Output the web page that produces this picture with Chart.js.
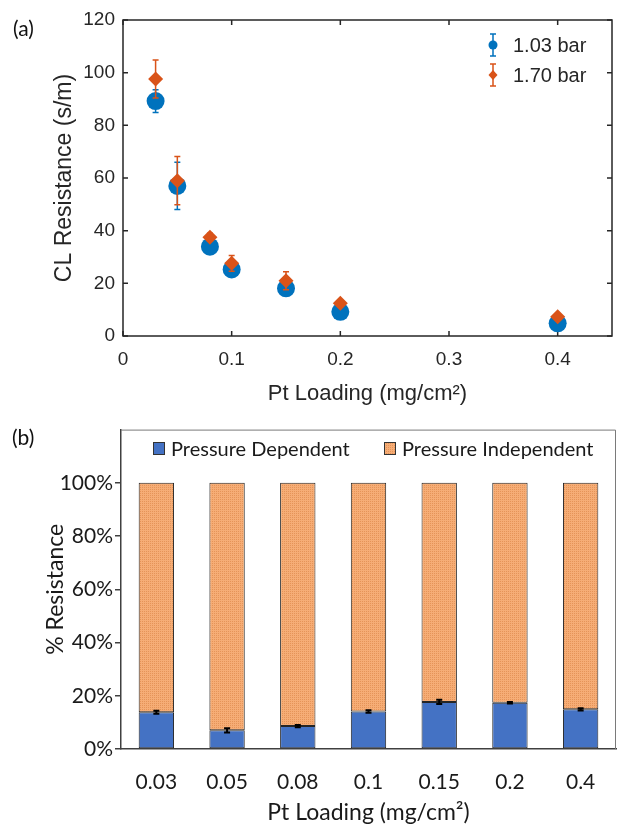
<!DOCTYPE html>
<html>
<head>
<meta charset="utf-8">
<script src="https://cdn.jsdelivr.net/npm/chart.js@4.4.1/dist/chart.umd.min.js"></script>
<style>
  html, body { margin: 0; padding: 0; background: #fff; }
  body { width: 621px; height: 827px; position: relative; overflow: hidden; }
  canvas { position: absolute; left: 0; }
  .tag { position: absolute; font-family: Lato, sans-serif; font-size: 21px; color: #111; z-index: 2; }
</style>
</head>
<body>
<canvas id="chartA" width="621" height="415" style="top:0"></canvas>
<canvas id="chartB" width="621" height="412" style="top:415px"></canvas>
<div class="tag" style="left:13px;top:15px">(a)</div>
<div class="tag" style="left:12px;top:424px">(b)</div>

<script>
// (a) CL resistance vs Pt loading
const ptLoading = [0.03, 0.05, 0.08, 0.1, 0.15, 0.2, 0.4];
const res103 = [89.2, 57.0, 33.9, 25.3, 18.1, 9.2, 4.8];
const err103 = [4.3, 9.0, 1.0, 1.0, 1.0, 1.0, 1.0];
const res170 = [97.6, 59.0, 37.5, 27.6, 21.0, 12.4, 7.3];
const err170 = [7.2, 9.2, 1.5, 3.0, 3.4, 1.2, 1.0];

// (b) share of resistance
const loadingLabels = ["0.03", "0.05", "0.08", "0.1", "0.15", "0.2", "0.4"];
const depPct = [13.8, 7.0, 8.6, 14.1, 17.7, 17.4, 14.9];
const depErr = [0.6, 0.8, 0.4, 0.5, 0.8, 0.3, 0.4];
const indepPct = [86.2, 93.0, 91.4, 85.9, 82.3, 82.6, 85.1];

const pctTicks = [0, 20, 40, 60, 80, 100];

const ARIAL = "'Liberation Sans', Arial, sans-serif";
const CALIBRI = "Lato, 'Open Sans', sans-serif";
const INK = "#262626";

// fine stipple like the orange fill in the original
function stipple(base, dot) {
  const c = document.createElement("canvas");
  c.width = 2; c.height = 2;
  const g = c.getContext("2d");
  g.fillStyle = base; g.fillRect(0, 0, 2, 2);
  g.fillStyle = dot; g.fillRect(0, 0, 1, 1);
  return g.createPattern(c, "repeat");
}
const orangeFill = stipple("#F6AD76", "#E59458");

// error bars drawn just before each dataset's own markers
const errorBars = {
  id: "errorBars",
  beforeDatasetDraw(chart, args) {
    const ds = chart.data.datasets[args.index];
    if (!ds.errors) return;
    const { ctx, scales: { x, y } } = chart;
    ctx.save();
    ctx.strokeStyle = ds.borderColor;
    ctx.lineWidth = 1.5;
    ds.data.forEach((p, i) => {
      const e = ds.errors[i];
      const px = x.getPixelForValue(p.x);
      const top = y.getPixelForValue(p.y + e);
      const bot = y.getPixelForValue(p.y - e);
      ctx.beginPath();
      ctx.moveTo(px, top); ctx.lineTo(px, bot);
      ctx.moveTo(px - 3, top); ctx.lineTo(px + 3, top);
      ctx.moveTo(px - 3, bot); ctx.lineTo(px + 3, bot);
      ctx.stroke();
    });
    ctx.restore();
  }
};

// box with inward ticks on all four sides (MATLAB style)
const boxA = {
  id: "boxA",
  beforeDatasetsDraw(chart) {
    const { ctx, chartArea: a, scales: { x, y } } = chart;
    ctx.save();
    ctx.strokeStyle = INK;
    ctx.lineWidth = 1.5;
    ctx.strokeRect(a.left, a.top, a.right - a.left, a.bottom - a.top);
    ctx.beginPath();
    x.ticks.forEach(t => {
      const px = x.getPixelForValue(t.value);
      ctx.moveTo(px, a.bottom); ctx.lineTo(px, a.bottom - 5);
      ctx.moveTo(px, a.top); ctx.lineTo(px, a.top + 5);
    });
    y.ticks.forEach(t => {
      const py = y.getPixelForValue(t.value);
      ctx.moveTo(a.left, py); ctx.lineTo(a.left + 5, py);
      ctx.moveTo(a.right, py); ctx.lineTo(a.right - 5, py);
    });
    ctx.stroke();
    ctx.restore();
  }
};

const legendA = {
  id: "legendA",
  afterDraw(chart) {
    const ctx = chart.ctx;
    ctx.save();
    ctx.font = "20px " + ARIAL;
    ctx.textBaseline = "middle";
    chart.data.datasets.forEach((ds, i) => {
      const cx = 493, cy = 45 + i * 30;
      ctx.strokeStyle = ds.borderColor;
      ctx.fillStyle = ds.backgroundColor;
      ctx.lineWidth = 1.5;
      ctx.beginPath();
      ctx.moveTo(cx, cy - 11); ctx.lineTo(cx, cy + 11);
      ctx.moveTo(cx - 3, cy - 11); ctx.lineTo(cx + 3, cy - 11);
      ctx.moveTo(cx - 3, cy + 11); ctx.lineTo(cx + 3, cy + 11);
      ctx.stroke();
      ctx.beginPath();
      if (ds.pointStyle === "rectRot") {
        ctx.moveTo(cx, cy - 5); ctx.lineTo(cx + 4.5, cy); ctx.lineTo(cx, cy + 5); ctx.lineTo(cx - 4.5, cy);
        ctx.closePath();
      } else {
        ctx.arc(cx, cy, 4.5, 0, Math.PI * 2);
      }
      ctx.fill();
      ctx.fillStyle = INK;
      ctx.fillText(ds.label, 513, cy + 1);
    });
    ctx.restore();
  }
};

new Chart(document.getElementById("chartA"), {
  type: "scatter",
  data: {
    datasets: [
      {
        label: "1.03 bar",
        data: ptLoading.map((x, i) => ({ x: x, y: res103[i] })),
        errors: err103,
        pointStyle: "circle",
        pointRadius: 9,
        borderWidth: 0,
        backgroundColor: "#0072BD",
        borderColor: "#0072BD",
        order: 1
      },
      {
        label: "1.70 bar",
        data: ptLoading.map((x, i) => ({ x: x, y: res170[i] })),
        errors: err170,
        pointStyle: "rectRot",
        pointRadius: 7.5,
        borderWidth: 0,
        backgroundColor: "#D95319",
        borderColor: "#D95319",
        order: 0
      }
    ]
  },
  options: {
    responsive: false,
    animation: false,
    devicePixelRatio: 1,
    layout: { padding: { top: 20, right: 4, left: 0, bottom: 0 } },
    plugins: { legend: { display: false }, tooltip: { enabled: false } },
    scales: {
      x: {
        type: "linear", min: 0, max: 0.45,
        ticks: { stepSize: 0.1, includeBounds: false, color: INK, padding: 12, maxRotation: 0,
                 font: { family: ARIAL, size: 19 } },
        grid: { display: false, drawTicks: false },
        border: { display: false },
        title: { display: true, text: "Pt Loading (mg/cm²)", color: INK,
                 font: { family: ARIAL, size: 22 }, padding: { top: 0, bottom: 8 } },
        afterFit(s) { s.height = 79; }
      },
      y: {
        min: 0, max: 120,
        ticks: { stepSize: 20, color: INK, padding: 8, font: { family: ARIAL, size: 19 } },
        grid: { display: false, drawTicks: false },
        border: { display: false },
        title: { display: true, text: "CL Resistance (s/m)", color: INK,
                 font: { family: ARIAL, size: 23 }, padding: { top: 51, bottom: 0 } },
        afterFit(s) { s.width = 123; }
      }
    }
  },
  plugins: [boxA, errorBars, legendA]
});

// (b) top/right frame lines, error caps and legend
const boxB = {
  id: "boxB",
  afterDraw(chart) {
    const { ctx, chartArea: a } = chart;
    ctx.save();
    ctx.strokeStyle = "#7a7a7a";
    ctx.lineWidth = 1;
    ctx.beginPath();
    ctx.moveTo(a.left, a.top + 0.5); ctx.lineTo(a.right - 0.5, a.top + 0.5); ctx.lineTo(a.right - 0.5, a.bottom);
    ctx.stroke();
    ctx.restore();
  }
};

const errorCaps = {
  id: "errorCaps",
  afterDatasetsDraw(chart) {
    const { ctx, scales: { y } } = chart;
    chart.data.datasets.forEach((ds, di) => {
      if (!ds.errors) return;
      const meta = chart.getDatasetMeta(di);
      ctx.save();
      ctx.strokeStyle = "#000";
      ctx.lineWidth = 2;
      meta.data.forEach((bar, i) => {
        const top = y.getPixelForValue(ds.data[i] + ds.errors[i]);
        const bot = y.getPixelForValue(ds.data[i] - ds.errors[i]);
        ctx.beginPath();
        ctx.moveTo(bar.x, top); ctx.lineTo(bar.x, bot);
        ctx.moveTo(bar.x - 3, top); ctx.lineTo(bar.x + 3, top);
        ctx.moveTo(bar.x - 3, bot); ctx.lineTo(bar.x + 3, bot);
        ctx.stroke();
      });
      ctx.restore();
    });
  }
};

const legendB = {
  id: "legendB",
  afterDraw(chart) {
    const ctx = chart.ctx;
    const spots = [153, 384];
    ctx.save();
    ctx.font = "20px " + CALIBRI;
    ctx.textBaseline = "middle";
    chart.data.datasets.forEach((ds, i) => {
      const sx = spots[i], cy = 33.5;
      ctx.fillStyle = ds.backgroundColor;
      ctx.fillRect(sx, cy - 6.5, 12, 13);
      ctx.strokeStyle = "#333";
      ctx.lineWidth = 1;
      ctx.strokeRect(sx + 0.5, cy - 6, 11, 12);
      ctx.fillStyle = "#1a1a1a";
      ctx.fillText(ds.label, sx + 18, cy + 1);
    });
    ctx.restore();
  }
};

new Chart(document.getElementById("chartB"), {
  type: "bar",
  data: {
    labels: loadingLabels,
    datasets: [
      {
        label: "Pressure Dependent",
        data: depPct,
        errors: depErr,
        backgroundColor: "#4472C4",
        borderColor: "#262626",
        borderWidth: 1,
        borderSkipped: false,
        barPercentage: 0.5,
        categoryPercentage: 1
      },
      {
        label: "Pressure Independent",
        data: indepPct,
        backgroundColor: orangeFill,
        borderColor: "#262626",
        borderWidth: 1,
        borderSkipped: false,
        barPercentage: 0.5,
        categoryPercentage: 1
      }
    ]
  },
  options: {
    responsive: false,
    animation: false,
    devicePixelRatio: 1,
    layout: { padding: { top: 7, right: 5, left: 0, bottom: 0 } },
    plugins: { legend: { display: false }, tooltip: { enabled: false } },
    scales: {
      x: {
        stacked: true,
        ticks: { color: "#1a1a1a", padding: 21, maxRotation: 0, font: { family: CALIBRI, size: 21 } },
        grid: { display: false, drawTicks: false },
        border: { display: true, color: "#404040", width: 1.5 },
        title: { display: true, text: "Pt Loading (mg/cm²)", color: "#1a1a1a",
                 font: { family: CALIBRI, size: 23 }, padding: { top: 0, bottom: 1 } },
        afterFit(s) { s.height = 78; }
      },
      y: {
        stacked: true, min: 0, max: 120,
        afterBuildTicks(s) { s.ticks = pctTicks.map(v => ({ value: v })); },
        ticks: { color: "#1a1a1a", padding: 2, font: { family: CALIBRI, size: 21 },
                 callback: v => v + "%" },
        grid: { drawOnChartArea: false, drawTicks: true, tickLength: 6, color: "#404040", lineWidth: 1.5 },
        border: { display: true, color: "#404040", width: 1.5 },
        title: { display: true, text: "% Resistance", color: "#1a1a1a",
                 font: { family: CALIBRI, size: 23 }, padding: { top: 42, bottom: 0 } },
        afterFit(s) { s.width = 121; }
      }
    }
  },
  plugins: [boxB, errorCaps, legendB]
});
</script>
</body>
</html>
